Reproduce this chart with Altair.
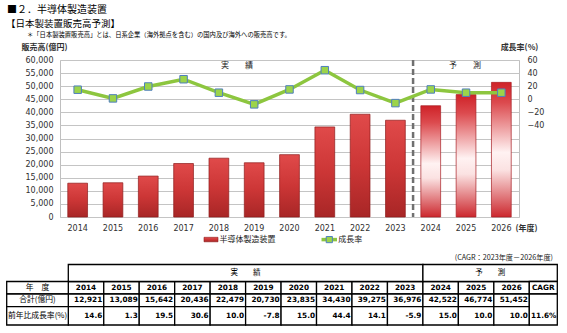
import altair as alt
import pandas as pd

# ---------------- data ----------------
years = ['2014', '2015', '2016', '2017', '2018', '2019', '2020',
         '2021', '2022', '2023', '2024', '2025', '2026']
sales = [12921, 13089, 15642, 20436, 22479, 20730, 23835,
         34430, 39275, 36976, 42522, 46774, 51452]
growth = [14.6, 1.3, 19.5, 30.6, 10.0, -7.8, 15.0,
          44.4, 14.1, -5.9, 15.0, 10.0, 10.0]
phase = ['実績'] * 10 + ['予測'] * 3
sales_ticks = [0, 5000, 10000, 15000, 20000, 25000, 30000,
               35000, 40000, 45000, 50000, 55000, 60000]
growth_ticks = [60, 40, 20, 0, -20, -40]
series_names = ['半導体製造装置', '成長率']
phase_labels = ['実　　績', '予　　測']
row_keys = ['head', 'year', 'total', 'growth']
row_labels = ['年　度', '合計(億円)', '前年比成長率(%)']
cagr_label = 'CAGR'
cagr_value = '11.6%'
title_lines = ['■２．半導体製造装置', '【日本製装置販売高予測】',
               '＊「日本製装置販売高」とは、日系企業（海外拠点を含む）の国内及び海外への販売高です。']
cagr_note = '(CAGR：2023年度－2026年度)'
axis_titles = ['販売高(億円)', '成長率(%)', '(年度)']

df = pd.DataFrame({'year': years, 'sales': sales, 'growth': growth, 'phase': phase})

JP = 'Noto Sans CJK JP'
NUM = 'DejaVu Sans'
GREEN = '#8DC63F'

# ---------------- main chart ----------------
x_scale = alt.Scale(domain=years, paddingInner=0, paddingOuter=0)
x_axis = alt.Axis(labelAngle=0, domain=False, ticks=False, labelPadding=7,
                  labelFont=NUM, labelFontSize=8, labelColor='#303030',
                  title=axis_titles[2], titleFont=JP, titleFontSize=8,
                  titleFontWeight='bold', titleColor='#303030',
                  titleX=466, titleY=11, titleAlign='center', titleBaseline='middle')


def X(bp=0.5):
    return alt.X('year:N', scale=x_scale, axis=x_axis, bandPosition=bp)


y_axis = alt.Axis(values=sales_ticks, format=',d', domain=False, ticks=False,
                  grid=True, gridColor='#C4C4C4', gridWidth=1,
                  labelFont=NUM, labelFontSize=8, labelColor='#303030', labelPadding=7,
                  title=axis_titles[0], titleAngle=0, titleFont=JP, titleFontSize=8,
                  titleFontWeight='bold', titleColor='#303030',
                  titleX=-16, titleY=-13, titleAlign='center', titleBaseline='middle')
Y = alt.Y('sales:Q', scale=alt.Scale(domain=[0, 60000], nice=False), axis=y_axis)

grad_actual = alt.LinearGradient(
    gradient='linear', x1=0, y1=0, x2=0, y2=1,
    stops=[alt.GradientStop(color='#E04A4A', offset=0),
           alt.GradientStop(color='#CC3636', offset=0.5),
           alt.GradientStop(color='#A82626', offset=1)])
grad_fc = alt.LinearGradient(
    gradient='linear', x1=0, y1=0, x2=0, y2=1,
    stops=[alt.GradientStop(color='#CF2228', offset=0),
           alt.GradientStop(color='#DC4A4E', offset=0.15),
           alt.GradientStop(color='#FFF2F2', offset=0.52),
           alt.GradientStop(color='#FBE2E2', offset=0.65),
           alt.GradientStop(color='#CC282E', offset=1)])

bars_actual = alt.Chart(df).transform_filter(alt.datum.phase == '実績').mark_bar(
    width={'band': 0.56}, fill=grad_actual, stroke='#8E1B1B', strokeWidth=0.7
).encode(x=X(), y=Y)

bars_fc = alt.Chart(df).transform_filter(alt.datum.phase == '予測').mark_bar(
    width={'band': 0.56}, fill=grad_fc, stroke='#A81E24', strokeWidth=0.7
).encode(x=X(), y=Y)

divider = alt.Chart(pd.DataFrame({'year': [years[10]]})).mark_rule(
    color='#707070', strokeWidth=2.5, strokeDash=[6, 3]
).encode(x=X(0))

phase_txt = alt.Chart(pd.DataFrame({'t': [phase_labels[0]]})).mark_text(
    font=JP, fontSize=8, color='#202020', baseline='middle'
).encode(x=alt.value(177), y=alt.value(6), text='t:N')
phase_txt2 = alt.Chart(pd.DataFrame({'t': [phase_labels[1]]})).mark_text(
    font=JP, fontSize=8, color='#202020', baseline='middle'
).encode(x=alt.value(405), y=alt.value(6), text='t:N')

bar_group = alt.layer(bars_actual, bars_fc, divider, phase_txt, phase_txt2)

y2_axis = alt.Axis(orient='right', values=growth_ticks, domain=False, ticks=False, grid=False,
                   labelFont=NUM, labelFontSize=8, labelColor='#303030', labelPadding=8,
                   title=axis_titles[1], titleAngle=0, titleFont=JP, titleFontSize=8,
                   titleFontWeight='bold', titleColor='#303030',
                   titleX=0, titleY=-13, titleAlign='center', titleBaseline='middle')
Y2 = alt.Y('growth:Q', scale=alt.Scale(domain=[-180, 60], nice=False, zero=False), axis=y2_axis)

line = alt.Chart(df).mark_line(color=GREEN, strokeWidth=3.5).encode(x=X(), y=Y2)
pts = alt.Chart(df).mark_square(size=56, fill='#9CD44A', stroke='#4F7FBF',
                                strokeWidth=1, opacity=1).encode(x=X(), y=Y2)
line_group = alt.layer(line, pts)

chart_group = alt.layer(bar_group, line_group).resolve_scale(y='independent')

# ---------------- table ----------------
cells = []
for i, yv in enumerate(years):
    cells.append({'year': yv, 'row': 'year', 'txt': yv})
    cells.append({'year': yv, 'row': 'total', 'txt': f'{sales[i]:,}'})
    cells.append({'year': yv, 'row': 'growth', 'txt': f'{growth[i]:.1f}'})
cells_df = pd.DataFrame(cells)
cells_df['r0'] = cells_df['row'].map(row_keys.index)

T_xs = alt.Scale(domain=years, range=[8.3, 469.3], paddingInner=0, paddingOuter=0)
T_ys = alt.Scale(domain=[0, 1, 2, 3, 4], range=[204.5, 221.5, 234, 246.7, 265], nice=False, zero=False)


def TX(field='year:N', bp=0.5):
    return alt.X(field, scale=T_xs, axis=None, bandPosition=bp)


def TY(field='r0:Q'):
    return alt.Y(field, scale=T_ys, axis=None)


STK = dict(fill='white', stroke='black', strokeWidth=1.3)

cell_rects = alt.Chart(cells_df).transform_calculate(r1='datum.r0 + 1').mark_rect(**STK).encode(
    x=TX(), y=TY(), y2='r1:Q')
year_txt = alt.Chart(cells_df).transform_filter(alt.datum.row == 'year').transform_calculate(
    rc='datum.r0 + 0.5').mark_text(font=NUM, fontSize=7.3, fontWeight='bold', baseline='middle').encode(
    x=TX(), y=TY('rc:Q'), text='txt:N')
val_txt = alt.Chart(cells_df).transform_filter(alt.datum.row != 'year').transform_calculate(
    rc='datum.r0 + 0.5').mark_text(font=NUM, fontSize=7.3, fontWeight='bold', baseline='middle',
                                   align='right', dx=-1.5).encode(
    x=TX(bp=1), y=TY('rc:Q'), text='txt:N')

head_df = pd.DataFrame({'start': [years[0]], 'end': [years[9]], 'r0': [0], 'r1': [1]})
head_a = alt.Chart(head_df).mark_rect(**STK).encode(
    x=TX('start:N', bp=0), x2=alt.X2('end:N', bandPosition=1), y=TY(), y2='r1:Q')
head_df2 = pd.DataFrame({'start': [years[10]], 'r0': [0], 'r1': [1]})
head_b = alt.Chart(head_df2).mark_rect(**STK).encode(
    x=TX('start:N', bp=0), x2=alt.value(497.3), y=TY(), y2='r1:Q')

lab_df = pd.DataFrame({'t': row_labels, 'r0': [1, 2, 3]})
lab_rects = alt.Chart(lab_df).transform_calculate(r1='datum.r0 + 1').mark_rect(**STK).encode(
    x=alt.value(-53.3), x2=alt.value(8.3), y=TY(), y2='r1:Q')
lab_txt = alt.Chart(lab_df).transform_calculate(rc='datum.r0 + 0.5').mark_text(
    font=JP, fontSize=7.8, baseline='middle').encode(x=alt.value(-22.5), y=TY('rc:Q'), text='t:N')

cagr_df = pd.DataFrame({'t': [cagr_label, cagr_value], 'r0': [1, 2], 'r1': [2, 4]})
cagr_rects = alt.Chart(cagr_df).mark_rect(**STK).encode(
    x=alt.value(469.3), x2=alt.value(497.3), y=TY(), y2='r1:Q')
cagr_t1 = alt.Chart(pd.DataFrame({'t': [cagr_label], 'r': [1.5]})).mark_text(
    font=NUM, fontSize=7.3, fontWeight='bold', baseline='middle').encode(
    x=alt.value(483.3), y=TY('r:Q'), text='t:N')
cagr_t2 = alt.Chart(pd.DataFrame({'t': [cagr_value], 'r': [3.5]})).mark_text(
    font=NUM, fontSize=7.3, fontWeight='bold', baseline='middle', align='right').encode(
    x=alt.value(496.3), y=TY('r:Q'), text='t:N')

hd_t1 = alt.Chart(pd.DataFrame({'t': [phase_labels[0]], 'r': [0.5]})).mark_text(
    font=JP, fontSize=7.5, baseline='middle').encode(x=alt.value(185.6), y=TY('r:Q'), text='t:N')
hd_t2 = alt.Chart(pd.DataFrame({'t': [phase_labels[1]], 'r': [0.5]})).mark_text(
    font=JP, fontSize=7.5, baseline='middle').encode(x=alt.value(430.3), y=TY('r:Q'), text='t:N')

table_group = alt.layer(cell_rects, head_a, head_b, lab_rects, cagr_rects,
                        year_txt, val_txt, lab_txt, cagr_t1, cagr_t2, hd_t1, hd_t2)


# ---------------- annotations ----------------
def note(text, x, y, size, weight='normal', align='left', font=JP, color='black'):
    return alt.Chart(pd.DataFrame({'t': [text]})).mark_text(
        align=align, baseline='middle', fontSize=size, fontWeight=weight, font=font, color=color
    ).encode(x=alt.value(x), y=alt.value(y), text='t:N')


t1 = note(title_lines[0], -53, -50.5, 10)
t2 = note(title_lines[1], -54, -36, 9.5)
t3 = note(title_lines[2], -33, -25.3, 6.3)
t4 = note(cagr_note, 493, 197.5, 7.2, align='right', color='#202020')

leg_rect = alt.Chart(pd.DataFrame({'s': [series_names[0]]})).mark_rect(
    fill=grad_actual, stroke='#8E1B1B', strokeWidth=0.6
).encode(x=alt.value(144), x2=alt.value(158), y=alt.value(177.3), y2=alt.value(181.8))
leg_t1 = note(series_names[0], 159.5, 179.6, 8, color='#202020')
leg_line = alt.Chart(pd.DataFrame({'s': [series_names[1]]})).mark_rule(
    color=GREEN, strokeWidth=3.5
).encode(x=alt.value(261.5), x2=alt.value(277), y=alt.value(179.6))
leg_pt = alt.Chart(pd.DataFrame({'s': [series_names[1]]})).mark_square(
    size=38, fill='#9CD44A', stroke='#4F7FBF', strokeWidth=1, opacity=1
).encode(x=alt.value(269.3), y=alt.value(179.6))
leg_t2 = note(series_names[1], 278.3, 179.6, 8, color='#202020')

chart = alt.layer(
    chart_group, table_group, t1, t2, t3, t4, leg_rect, leg_t1, leg_line, leg_pt, leg_t2
).resolve_scale(x='independent', y='independent').properties(
    width=459, height=157,
    padding={'left': 60, 'top': 60, 'right': 48, 'bottom': 116},
    autosize=alt.AutoSizeParams(type='none'),
    background='white'
).configure_view(stroke='#BFBFBF', strokeWidth=1)

chart.save('out.html', embed_options={'renderer': 'svg', 'actions': False})
